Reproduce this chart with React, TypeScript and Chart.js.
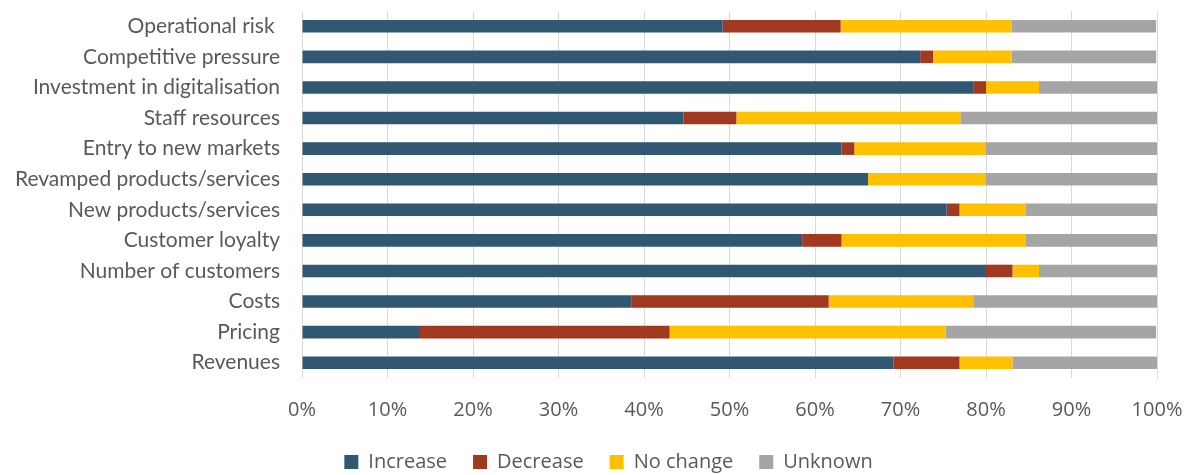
import React, { useEffect, useRef } from "react";
import { Chart, registerables } from "chart.js";

Chart.register(...registerables);

const categories = [
  "Operational risk ",
  "Competitive pressure",
  "Investment in digitalisation",
  "Staff resources",
  "Entry to new markets",
  "Revamped products/services",
  "New products/services",
  "Customer loyalty",
  "Number of customers",
  "Costs",
  "Pricing",
  "Revenues",
];

const increase = [49.2, 72.3, 78.5, 44.6, 63.1, 66.2, 75.4, 58.5, 80.0, 38.5, 13.8, 69.2];
const decrease = [13.8, 1.5, 1.5, 6.2, 1.5, 0.0, 1.5, 4.6, 3.1, 23.1, 29.2, 7.7];
const noChange = [20.0, 9.2, 6.2, 26.2, 15.4, 13.8, 7.7, 21.5, 3.1, 16.9, 32.3, 6.2];
const unknown = [16.9, 16.9, 13.8, 23.1, 20.0, 20.0, 15.4, 15.4, 13.8, 21.5, 24.6, 16.9];

const seriesNames = ["Increase", "Decrease", "No change", "Unknown"];
const seriesColors = ["#305872", "#A0391F", "#FFC000", "#A5A5A5"];

const legendShift = {
  id: "legendShift",
  afterLayout(chart: any) {
    const l = chart.legend;
    if (!l) return;
    l.left += 30;
    l.right += 30;
  },
};

export default function App() {
  const ref = useRef<HTMLCanvasElement | null>(null);

  useEffect(() => {
    if (!ref.current) return;
    const values = [increase, decrease, noChange, unknown];
    const chart = new Chart(ref.current, {
      type: "bar",
      data: {
        labels: categories,
        datasets: values.map((v, i) => ({
          label: seriesNames[i],
          data: v,
          backgroundColor: seriesColors[i],
          borderWidth: 0,
          barPercentage: 0.41,
          categoryPercentage: 1,
        })),
      },
      plugins: [legendShift],
      options: {
        indexAxis: "y",
        responsive: false,
        animation: false,
        layout: { padding: { top: 11, right: 35, left: 0, bottom: 0 } },
        plugins: {
          tooltip: { enabled: false },
          legend: {
            position: "bottom",
            maxHeight: 49,
            labels: {
              boxWidth: 14,
              boxHeight: 14,
              padding: 26,
              color: "#595959",
              font: { family: "'Open Sans', sans-serif", size: 20 },
            },
          },
        },
        scales: {
          x: {
            stacked: true,
            min: 0,
            max: 100,
            afterFit: (s: any) => {
              s.height = 48;
              s.paddingLeft = 0;
              s.paddingRight = 0;
              s.paddingTop = 0;
              s.paddingBottom = 0;
            },
            ticks: {
              stepSize: 10,
              padding: 20,
              color: "#595959",
              font: { family: "'Open Sans', sans-serif", size: 20 },
              callback: (v: any) => v + "%",
            },
            grid: { color: "#D9D9D9", lineWidth: 1, drawTicks: false },
            border: { display: false },
          },
          y: {
            stacked: true,
            afterFit: (s: any) => {
              s.width = 302;
              s.paddingLeft = 0;
              s.paddingRight = 0;
              s.paddingTop = 0;
              s.paddingBottom = 0;
            },
            ticks: {
              padding: 22,
              color: "#595959",
              font: { family: "Lato, 'Open Sans', sans-serif", size: 21 },
            },
            grid: { display: false, drawTicks: false },
            border: { display: false },
          },
        },
      },
    });
    return () => chart.destroy();
  }, []);

  return (
    <div style={{ position: "fixed", left: 0, top: 0, width: 1192, height: 475, background: "#fff" }}>
      <canvas ref={ref} width={1192} height={475} style={{ display: "block" }} />
    </div>
  );
}
